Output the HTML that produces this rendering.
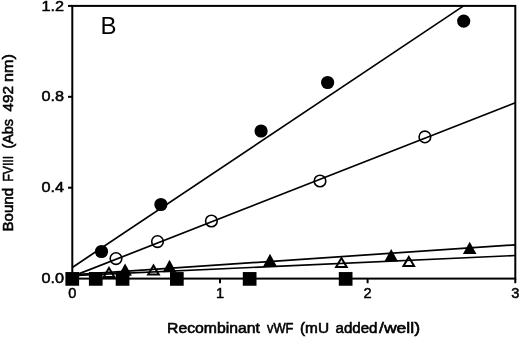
<!DOCTYPE html><html><head><meta charset="utf-8"><style>html,body{margin:0;padding:0;background:#fff;}body{width:520px;height:337px;overflow:hidden;}svg{display:block;}.t{font-family:"Liberation Sans",Arial,sans-serif;font-weight:normal;font-size:14.6px;fill:#000;stroke:#000;stroke-width:0.5px;}.lab{font-family:"Liberation Sans",Arial,sans-serif;font-weight:normal;font-size:14.0px;fill:#000;stroke:#000;stroke-width:0.55px;}</style></head><body>
<svg width="520" height="337" viewBox="0 0 520 337">
<rect width="520" height="337" fill="#fff"/>
<line x1="72.3" y1="267.45" x2="463.6" y2="5.90" stroke="#000" stroke-width="1.7"/>
<line x1="72.3" y1="276.40" x2="515.3" y2="102.80" stroke="#000" stroke-width="1.7"/>
<line x1="72.3" y1="274.90" x2="515.3" y2="244.80" stroke="#000" stroke-width="1.7"/>
<line x1="72.3" y1="275.60" x2="515.3" y2="255.50" stroke="#000" stroke-width="1.7"/>
<rect x="72.3" y="5.9" width="443.0" height="272.7" fill="none" stroke="#000" stroke-width="2"/>
<line x1="68" y1="278.6" x2="72.3" y2="278.6" stroke="#000" stroke-width="2"/>
<line x1="68" y1="187.7" x2="72.3" y2="187.7" stroke="#000" stroke-width="2"/>
<line x1="68" y1="96.8" x2="72.3" y2="96.8" stroke="#000" stroke-width="2"/>
<line x1="68" y1="5.9" x2="72.3" y2="5.9" stroke="#000" stroke-width="2"/>
<line x1="72.3" y1="278.6" x2="72.3" y2="283.2" stroke="#000" stroke-width="2"/>
<line x1="220.0" y1="278.6" x2="220.0" y2="283.2" stroke="#000" stroke-width="2"/>
<line x1="367.6" y1="278.6" x2="367.6" y2="283.2" stroke="#000" stroke-width="2"/>
<line x1="515.3" y1="278.6" x2="515.3" y2="283.2" stroke="#000" stroke-width="2"/>
<circle cx="101.5" cy="251.5" r="6.6" fill="#000"/>
<circle cx="160.9" cy="204.5" r="6.6" fill="#000"/>
<circle cx="261.1" cy="131.0" r="6.6" fill="#000"/>
<circle cx="327.6" cy="82.5" r="6.6" fill="#000"/>
<circle cx="463.7" cy="21.1" r="6.6" fill="#000"/>
<circle cx="116.0" cy="258.6" r="5.8" fill="none" stroke="#000" stroke-width="1.6"/>
<circle cx="157.5" cy="241.6" r="5.8" fill="none" stroke="#000" stroke-width="1.6"/>
<circle cx="211.4" cy="221.0" r="5.8" fill="none" stroke="#000" stroke-width="1.6"/>
<circle cx="320.0" cy="181.0" r="5.8" fill="none" stroke="#000" stroke-width="1.6"/>
<circle cx="424.9" cy="136.9" r="5.8" fill="none" stroke="#000" stroke-width="1.6"/>
<rect x="65.4" y="272.05" width="13.7" height="13.7" fill="#000"/>
<rect x="88.9" y="272.05" width="13.7" height="13.7" fill="#000"/>
<rect x="115.7" y="272.05" width="13.7" height="13.7" fill="#000"/>
<rect x="170.0" y="272.05" width="13.7" height="13.7" fill="#000"/>
<rect x="242.8" y="272.05" width="13.7" height="13.7" fill="#000"/>
<rect x="338.8" y="272.05" width="13.7" height="13.7" fill="#000"/>
<polygon points="125.1,263.4 131.9,275.8 118.3,275.8" fill="#000"/>
<polygon points="169.5,259.8 176.3,272.2 162.7,272.2" fill="#000"/>
<polygon points="270.0,253.8 276.8,266.2 263.2,266.2" fill="#000"/>
<polygon points="391.2,249.0 398.0,261.4 384.4,261.4" fill="#000"/>
<polygon points="469.7,241.7 476.5,254.1 462.9,254.1" fill="#000"/>
<polygon points="109.0,268.0 114.3,277.0 103.7,277.0" fill="none" stroke="#000" stroke-width="2.0" stroke-linejoin="miter"/>
<polygon points="153.5,265.4 158.8,274.4 148.2,274.4" fill="none" stroke="#000" stroke-width="2.0" stroke-linejoin="miter"/>
<polygon points="341.4,258.1 346.7,267.1 336.1,267.1" fill="none" stroke="#000" stroke-width="2.0" stroke-linejoin="miter"/>
<polygon points="408.8,257.0 414.1,266.0 403.5,266.0" fill="none" stroke="#000" stroke-width="2.0" stroke-linejoin="miter"/>
<text class="t" x="41.4" y="283.2" textLength="22.6" lengthAdjust="spacingAndGlyphs">0.0</text>
<text class="t" x="41.4" y="192.3" textLength="22.6" lengthAdjust="spacingAndGlyphs">0.4</text>
<text class="t" x="41.4" y="101.4" textLength="22.6" lengthAdjust="spacingAndGlyphs">0.8</text>
<text class="t" x="41.4" y="10.5" textLength="22.6" lengthAdjust="spacingAndGlyphs">1.2</text>
<text class="t" x="72.3" y="298" text-anchor="middle">0</text>
<text class="t" x="220.0" y="298" text-anchor="middle">1</text>
<text class="t" x="367.6" y="298" text-anchor="middle">2</text>
<text class="t" x="515.3" y="298" text-anchor="middle">3</text>
<text x="100.5" y="34.2" style="font-family:'Liberation Sans',Arial,sans-serif;font-size:24px;fill:#000">B</text>
<text class="lab xw" x="166.99" y="332.5" textLength="93.01" lengthAdjust="spacingAndGlyphs">Recombinant</text>
<text class="lab xw" x="266.98" y="332.5" textLength="26.52" lengthAdjust="spacingAndGlyphs">vWF</text>
<text class="lab xw" x="299.96" y="332.5" textLength="29.05" lengthAdjust="spacingAndGlyphs">(mU</text>
<text class="lab xw" x="335.50" y="332.5" textLength="42.03" lengthAdjust="spacingAndGlyphs">added</text>
<text class="lab xw" x="379.00" y="332.5" textLength="41.01" lengthAdjust="spacingAndGlyphs">/well)</text>
<g transform="translate(13.1,0) rotate(-90)">
<text class="lab yw" x="-231.54" y="0" textLength="43.57" lengthAdjust="spacingAndGlyphs">Bound</text>
<text class="lab yw" x="-181.55" y="0" textLength="25.59" lengthAdjust="spacingAndGlyphs">FVIII</text>
<text class="lab yw" x="-148.55" y="0" textLength="29.57" lengthAdjust="spacingAndGlyphs">(Abs</text>
<text class="lab yw" x="-111.51" y="0" textLength="25.52" lengthAdjust="spacingAndGlyphs">492</text>
<text class="lab yw" x="-82.06" y="0" textLength="28.10" lengthAdjust="spacingAndGlyphs">nm)</text>
</g>
</svg></body></html>
